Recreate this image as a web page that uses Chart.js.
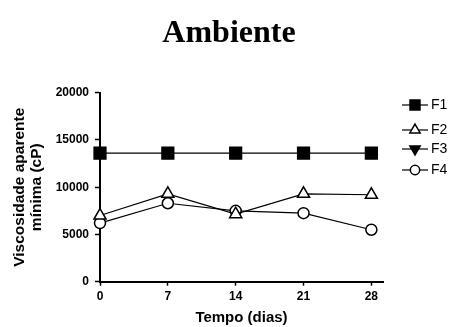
<!DOCTYPE html>
<html>
<head>
<meta charset="utf-8">
<script src="https://cdn.jsdelivr.net/npm/chart.js@4/dist/chart.umd.min.js"></script>
<style>
  html, body { margin: 0; padding: 0; background: #fff; }
  #wrap { width: 452px; height: 327px; }
</style>
</head>
<body>
<div id="wrap"><canvas id="c" width="452" height="327"></canvas></div>
<script>
// Days of storage and minimum apparent viscosity (cP) per formulation
const days = [0, 7, 14, 21, 28];
const xTicks = [0, 7, 14, 21, 28];
const yTicks = [0, 5000, 10000, 15000, 20000];
const seriesNames = ['F1', 'F2', 'F3', 'F4'];
const f1 = [13600, 13600, 13600, 13600, 13600];
const f2 = [7000, 9300, 7150, 9300, 9200];
const f3 = [null, null, null, null, null];
const f4 = [6200, 8300, 7500, 7250, 5500];
const chartTitle = 'Ambiente';

const sans = '"Liberation Sans", Arial, sans-serif';

const styles = [
  { pointStyle: 'rect', radius: 8.3, bg: '#000', rot: 0 },
  { pointStyle: 'triangle', radius: 7, bg: '#fff', rot: 0 },
  { pointStyle: 'triangle', radius: 7, bg: '#000', rot: 180 },
  { pointStyle: 'circle', radius: 5.5, bg: '#fff', rot: 0 }
];
const values = [f1, f2, f3, f4];

const datasets = seriesNames.map((name, i) => ({
  label: name,
  data: days.map((d, j) => ({ x: d, y: values[i][j] })),
  borderColor: '#000',
  borderWidth: 1.2,
  backgroundColor: styles[i].bg,
  pointStyle: styles[i].pointStyle,
  pointRadius: styles[i].radius,
  pointHoverRadius: styles[i].radius,
  pointRotation: styles[i].rot,
  pointBackgroundColor: styles[i].bg,
  pointBorderColor: '#000',
  pointBorderWidth: 1.5,
  tension: 0,
  clip: false,
  spanGaps: false
}));

// Serif heading above the plot
const heading = {
  id: 'heading',
  afterDraw(chart) {
    const ctx = chart.ctx;
    ctx.save();
    ctx.fillStyle = '#000';
    ctx.font = 'bold 32px "Liberation Serif", "Times New Roman", serif';
    ctx.textAlign = 'center';
    ctx.textBaseline = 'alphabetic';
    ctx.fillText(chartTitle, 229, 41.7);
    ctx.restore();
  }
};

// Legend on the right: short line with the marker, then the series name
const legendRows = [105, 130, 149, 170];
const sideLegend = {
  id: 'sideLegend',
  afterDraw(chart) {
    const ctx = chart.ctx;
    ctx.save();
    chart.data.datasets.forEach((ds, i) => {
      const y = legendRows[i];
      ctx.strokeStyle = '#000';
      ctx.lineWidth = 1.2;
      ctx.beginPath();
      ctx.moveTo(402, y);
      ctx.lineTo(428, y);
      ctx.stroke();
      ctx.fillStyle = ds.pointBackgroundColor;
      ctx.strokeStyle = '#000';
      ctx.lineWidth = 1.5;
      Chart.helpers.drawPoint(ctx, {
        pointStyle: ds.pointStyle,
        rotation: ds.pointRotation,
        radius: ds.pointRadius * 0.85,
        borderWidth: 1.5
      }, 415, y);
      ctx.fillStyle = '#000';
      ctx.font = '14px ' + sans;
      ctx.textAlign = 'left';
      ctx.textBaseline = 'middle';
      ctx.fillText(ds.label, 431, y + 0.5);
    });
    ctx.restore();
  }
};

new Chart(document.getElementById('c'), {
  type: 'line',
  data: { datasets },
  plugins: [heading, sideLegend],
  options: {
    responsive: false,
    animation: false,
    events: [],
    layout: { padding: { left: 0, right: 69, top: 92.7, bottom: 0 } },
    plugins: {
      legend: { display: false },
      tooltip: { enabled: false },
      title: { display: false }
    },
    scales: {
      x: {
        type: 'linear',
        min: 0,
        max: 29.2,
        afterBuildTicks(scale) { scale.ticks = xTicks.map(v => ({ value: v })); },
        afterFit(scale) { scale.height = 45.3; },
        grid: { display: true, drawOnChartArea: false, drawTicks: true, tickLength: 4, color: '#000', tickWidth: 1.5 },
        border: { display: true, color: '#000', width: 2 },
        ticks: {
          color: '#000',
          padding: 4,
          maxRotation: 0,
          font: { family: sans, size: 12, weight: 'bold' },
          callback: v => String(v)
        },
        title: {
          display: true,
          text: 'Tempo (dias)',
          color: '#000',
          font: { family: sans, size: 15, weight: 'bold', lineHeight: 1.1 },
          padding: { top: 0, bottom: 1 }
        }
      },
      y: {
        type: 'linear',
        min: 0,
        max: 20000,
        afterBuildTicks(scale) { scale.ticks = yTicks.map(v => ({ value: v })); },
        afterFit(scale) { scale.width = 100; },
        grid: { display: true, drawOnChartArea: false, drawTicks: true, tickLength: 5, color: '#000', tickWidth: 1.5 },
        border: { display: true, color: '#000', width: 2 },
        ticks: {
          color: '#000',
          padding: 6,
          font: { family: sans, size: 12, weight: 'bold' },
          callback: v => String(v)
        },
        title: {
          display: true,
          text: ['Viscosidade aparente', 'mínima (cP)'],
          color: '#000',
          font: { family: sans, size: 15.5, weight: 'bold', lineHeight: 1.07 },
          padding: { top: 11.7, bottom: 0 }
        }
      }
    }
  }
});
</script>
</body>
</html>
